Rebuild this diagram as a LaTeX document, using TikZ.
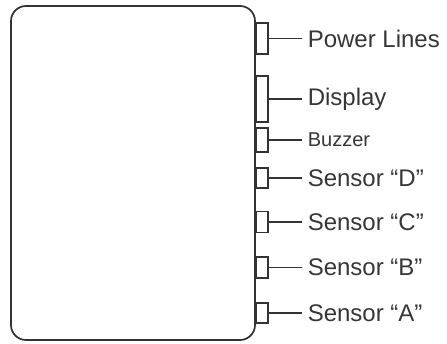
\documentclass[tikz,border=0pt]{standalone}
\usepackage{fontspec}
\setmainfont{Liberation Sans}
\usetikzlibrary{positioning}
\definecolor{linegray}{HTML}{333333}
\definecolor{textgray}{HTML}{363636}
\begin{document}
\begin{tikzpicture}[
  x=1pt, y=-1pt,
  node distance=5mm and 33pt,
  unitbox/.style={draw=linegray, line width=1.7pt, rounded corners=15pt, minimum width=244pt, minimum height=334pt, inner sep=0pt},
  port/.style={draw=linegray, line width=1.6pt, fill=white, minimum width=12pt, inner sep=0pt, anchor=west},
  lbl/.style={text=textgray, inner xsep=6pt, inner ysep=1pt, font=\fontsize{24}{24}\selectfont},
  wire/.style={draw=linegray, line width=1.8pt}
]
\useasboundingbox (0,0) rectangle (447,344);
\node[unitbox] (unit) at (133,173) {};
\node[port, minimum height=31pt] (power) at (255,38.5) {};
\node[port, minimum height=46pt] (display) at (255,99) {};
\node[port, minimum height=24pt] (buzzer) at (255,140) {};
\node[port, minimum height=20pt] (sensD) at (255,178) {};
\node[port, minimum height=21pt] (sensC) at (255,222) {};
\node[port, minimum height=21pt] (sensB) at (255,267.5) {};
\node[port, minimum height=20pt] (sensA) at (255,313) {};
\node[lbl, right=of power] (powerlbl) {Power Lines};
\node[lbl, right=of display] (displaylbl) {Display};
\node[lbl, right=of buzzer, font=\fontsize{20}{20}\selectfont] (buzzerlbl) {Buzzer};
\node[lbl, right=of sensD] (sensDlbl) {Sensor “D”};
\node[lbl, right=of sensC] (sensClbl) {Sensor “C”};
\node[lbl, right=of sensB] (sensBlbl) {Sensor “B”};
\node[lbl, right=of sensA] (sensAlbl) {Sensor “A”};
\draw[wire] (power) -- (powerlbl);
\draw[wire] (display) -- (displaylbl);
\draw[wire] (buzzer) -- (buzzerlbl);
\draw[wire] (sensD) -- (sensDlbl);
\draw[wire] (sensC) -- (sensClbl);
\draw[wire] (sensB) -- (sensBlbl);
\draw[wire] (sensA) -- (sensAlbl);
\end{tikzpicture}
\end{document}
